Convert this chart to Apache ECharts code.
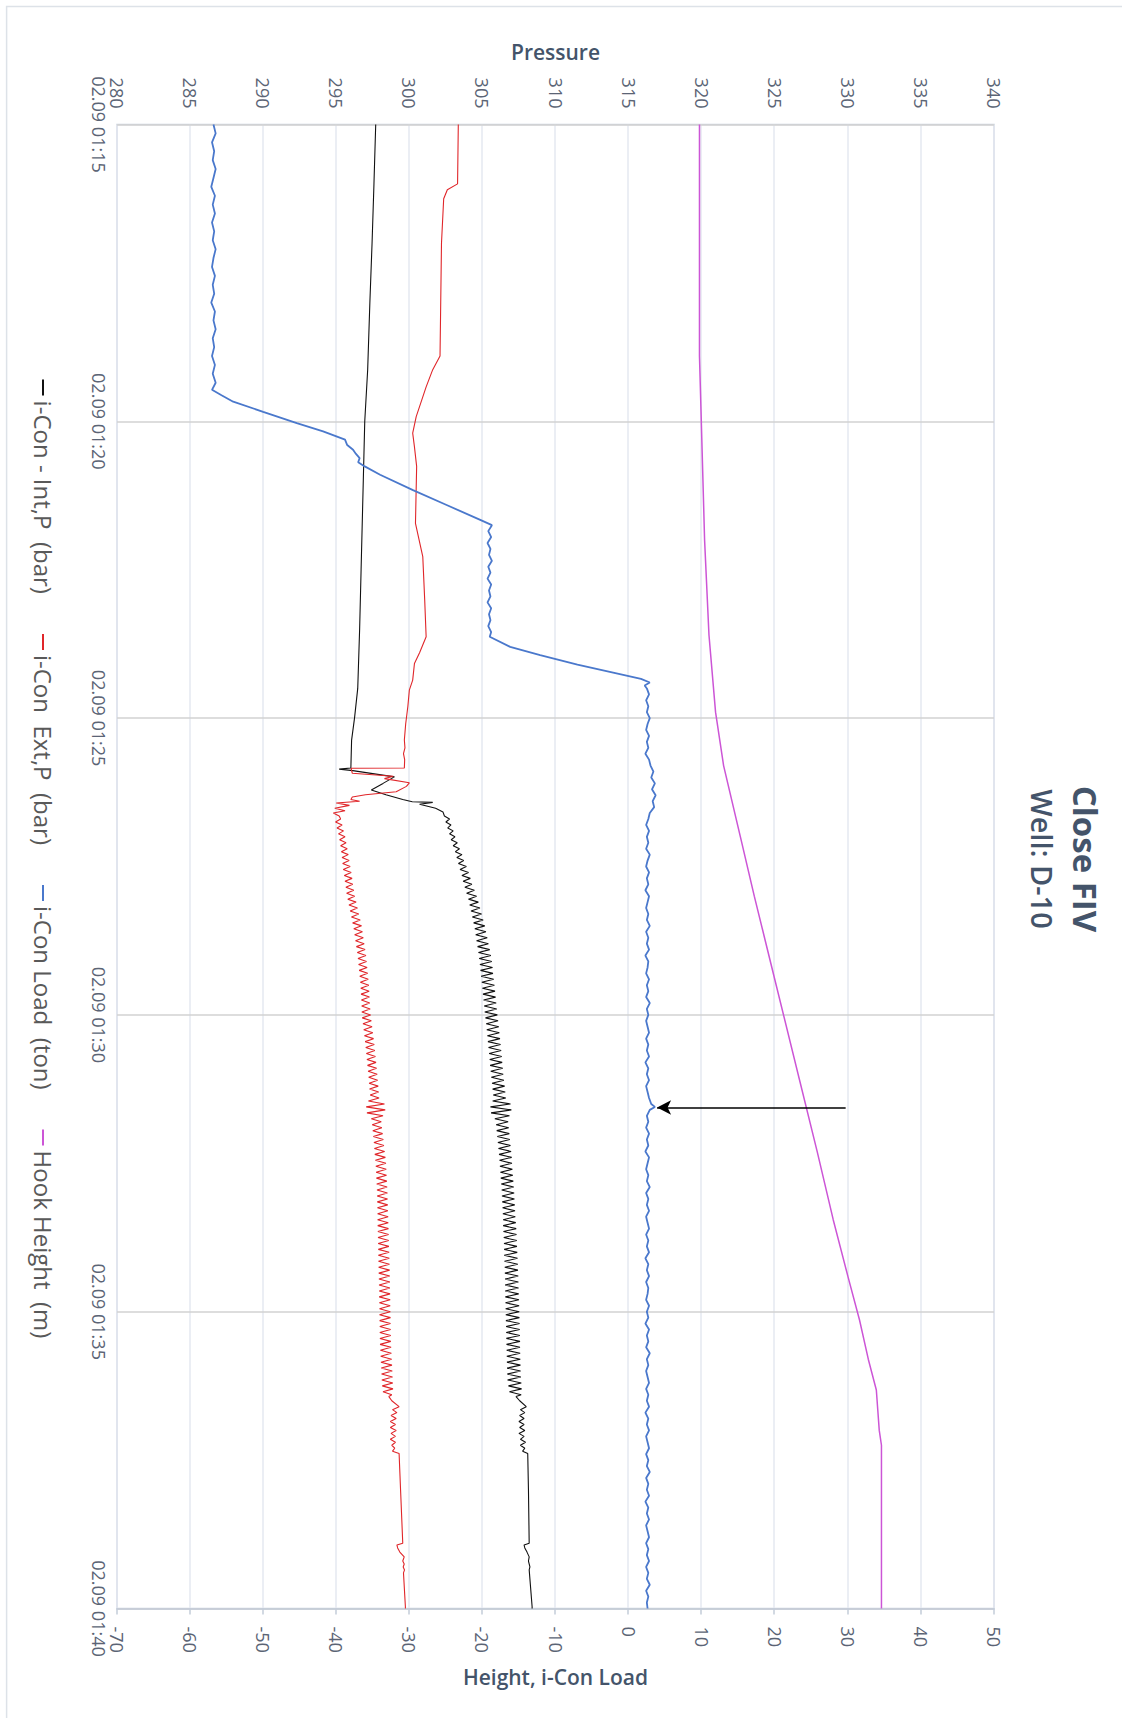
<!DOCTYPE html>
<html><head><meta charset="utf-8">
<script src="https://cdn.jsdelivr.net/npm/echarts@6/dist/echarts.min.js"></script>
<style>
html,body{margin:0;padding:0;background:#fff;overflow:hidden;width:1122px;height:1718px}
#chart{position:absolute;left:0;top:0;width:1718px;height:1122px;transform-origin:0 0;transform:translate(1122px,0) rotate(90deg);}
</style></head><body><div id="chart"></div><script>
// time is in minutes after 02.09 01:15
const timeLabels = ['02.09 01:15','02.09 01:20','02.09 01:25','02.09 01:30','02.09 01:35','02.09 01:40'];
const seriesNames = ['i-Con - Int,P  (bar)','i-Con  Ext,P  (bar)','i-Con Load  (ton)','Hook Height  (m)'];

// i-Con - Int,P (bar)  [minute, bar]
const intP = [[0,297.7],[1,297.58],[2,297.45],[3,297.3],[4.13,297.15],[5,296.95],[6,296.85],[7.5,296.7],[8.5,296.6],[9.5,296.47],[10,296.25],[10.37,296.05],[10.84,296.0],[10.86,295.2],[10.885,296.13],[10.99,298.98],[11.1,298.2],[11.21,297.4],[11.29,298.4],[11.37,299.55],[11.41,300.2],[11.42,301.6],[11.45,300.7],[11.52,301.8],[11.58,302.3],[11.65,302.4],
[11.7,302.75],[11.75,302.5],[11.8,302.85],[11.85,302.63],[11.9,303.0],[11.95,302.75],[12.0,303.12],[12.05,302.86],[12.1,303.28],[12.15,303.0],[12.2,303.43],[12.25,303.15],[12.3,303.6],[12.35,303.25],[12.4,303.72],[12.45,303.36],[12.5,303.9],[12.55,303.47],[12.6,304.05],[12.65,303.6],[12.7,304.17],[12.75,303.68],[12.8,304.28],[12.85,303.8],[12.9,304.45],[12.95,303.92],
[13.0,304.6],[13.05,304.05],[13.1,304.72],[13.15,304.13],[13.2,304.83],[13.25,304.22],[13.3,304.94],[13.35,304.31],[13.4,305.05],[13.45,304.4],[13.5,305.16],[13.55,304.48],[13.6,305.24],[13.65,304.54],[13.7,305.33],[13.75,304.6],[13.8,305.41],[13.85,304.67],[13.9,305.5],[13.95,304.73],
[14.0,305.58],[14.05,304.78],[14.1,305.64],[14.15,304.83],[14.2,305.69],[14.25,304.87],[14.3,305.72],[14.35,304.91],[14.4,305.77],[14.45,304.96],[14.5,305.82],[14.55,305.0],[14.6,305.86],[14.65,305.04],[14.7,305.9],[14.75,305.08],[14.8,305.94],[14.85,305.12],[14.9,305.98],[14.95,305.16],
[15.0,306.02],[15.05,305.21],[15.1,306.07],[15.15,305.26],[15.2,306.12],[15.25,305.3],[15.3,306.16],[15.35,305.34],[15.4,306.2],[15.45,305.38],[15.5,306.24],[15.55,305.42],[15.6,306.28],[15.65,305.46],[15.7,306.32],[15.75,305.5],[15.8,306.35],[15.85,305.53],[15.9,306.39],[15.95,305.57],
[16.0,306.42],[16.05,305.61],[16.1,306.47],[16.15,305.66],[16.2,306.52],[16.25,305.7],[16.3,306.56],[16.35,305.74],[16.4,306.6],[16.45,305.7],[16.5,306.92],[16.55,305.55],[16.6,306.98],[16.65,305.59],[16.7,306.85],[16.75,305.85],[16.8,306.76],[16.85,305.94],[16.9,306.8],[16.95,305.98],
[17.0,306.84],[17.05,306.02],[17.1,306.87],[17.15,306.06],[17.2,306.92],[17.25,306.1],[17.3,306.96],[17.35,306.14],[17.4,307.0],[17.45,306.17],[17.5,307.02],[17.55,306.2],[17.6,307.05],[17.65,306.23],[17.7,307.08],[17.75,306.26],[17.8,307.11],[17.85,306.29],[17.9,307.14],[17.95,306.32],
[18.0,307.17],[18.05,306.34],[18.1,307.19],[18.15,306.36],[18.2,307.21],[18.25,306.38],[18.3,307.23],[18.35,306.4],[18.4,307.25],[18.45,306.42],[18.5,307.28],[18.55,306.42],[18.6,307.31],[18.65,306.44],[18.7,307.33],[18.75,306.46],[18.8,307.35],[18.85,306.48],[18.9,307.36],[18.95,306.49],
[19.0,307.38],[19.05,306.49],[19.1,307.4],[19.15,306.51],[19.2,307.42],[19.25,306.53],[19.3,307.43],[19.35,306.54],[19.4,307.45],[19.45,306.55],[19.5,307.46],[19.55,306.55],[19.6,307.47],[19.65,306.56],[19.7,307.48],[19.75,306.57],[19.8,307.5],[19.85,306.58],[19.9,307.51],[19.95,306.59],
[20.0,307.52],[20.05,306.6],[20.1,307.53],[20.15,306.61],[20.2,307.54],[20.25,306.62],[20.3,307.55],[20.35,306.63],[20.4,307.56],[20.45,306.64],[20.5,307.57],[20.55,306.65],[20.6,307.57],[20.65,306.66],[20.7,307.58],[20.75,306.67],[20.8,307.59],[20.85,306.68],[20.9,307.6],[20.95,306.69],
[21.0,307.61],[21.05,306.7],[21.1,307.63],[21.15,306.72],[21.2,307.66],[21.25,306.78],[21.3,307.68],[21.35,306.85],[21.4,307.65],
[21.43,307.3],[21.5,307.55],[21.6,308.0],[21.65,307.6],[21.7,307.9],[21.75,307.55],[21.8,307.85],[21.85,307.5],[21.9,307.85],[21.95,307.55],[22.0,307.9],[22.05,307.5],[22.1,307.85],[22.15,307.6],[22.2,307.95],[22.25,307.6],[22.3,307.9],[22.35,307.75],[22.39,308.1],[23.0,308.15],[23.9,308.2],[23.93,307.85],[23.98,307.9],[24.05,308.05],[24.13,308.2],[24.2,308.15],[24.3,308.25],[24.35,308.2],[24.97,308.4],[25,308.4]];

// i-Con Ext,P (bar)
const extP = [[0,303.35],[1.0,303.3],[1.1,302.6],[1.25,302.35],[2,302.2],[3.9,302.1],[4.13,301.6],[4.42,301.15],[4.92,300.47],[5.2,300.23],[5.43,300.35],[5.76,300.5],[6.72,300.42],[7.28,300.92],[8.0,301.05],[8.63,301.15],[8.9,300.7],[9.08,300.35],[9.36,300.23],[9.53,300.0],[9.8,299.9],[10.1,299.75],[10.37,299.66],[10.5,299.7],[10.6,299.6],[10.7,299.68],[10.84,299.66],[10.846,296.02],[10.93,296.1],[10.98,298.9],[11.02,298.3],[11.09,300.0],[11.15,299.8],[11.24,299.1],[11.29,297.0],[11.33,296.1],[11.37,296.0],[11.40,296.6],[11.43,295.0],[11.47,295.9],[11.52,294.9],[11.56,295.6],[11.6,294.8],[11.65,295.2],
[11.7,295.3],[11.75,294.95],[11.8,295.4],[11.85,295.05],[11.9,295.5],[11.95,295.15],[12.0,295.6],[12.05,295.23],[12.1,295.67],[12.15,295.3],[12.2,295.75],[12.25,295.35],[12.3,295.82],[12.35,295.4],[12.4,295.88],[12.45,295.44],[12.5,295.95],[12.55,295.48],[12.6,296.02],[12.65,295.55],[12.7,296.08],[12.75,295.6],[12.8,296.13],[12.85,295.66],[12.9,296.2],[12.95,295.71],
[13.0,296.26],[13.05,295.79],[13.1,296.36],[13.15,295.87],[13.2,296.45],[13.25,295.95],[13.3,296.54],[13.35,296.04],[13.4,296.64],[13.45,296.12],[13.5,296.73],[13.55,296.2],[13.6,296.79],[13.65,296.26],[13.7,296.85],[13.75,296.32],[13.8,296.91],[13.85,296.38],[13.9,296.97],[13.95,296.44],
[14.0,297.03],[14.05,296.49],[14.1,297.07],[14.15,296.53],[14.2,297.11],[14.25,296.57],[14.3,297.15],[14.35,296.61],[14.4,297.19],[14.45,296.65],[14.5,297.23],[14.55,296.68],[14.6,297.25],[14.65,296.7],[14.7,297.27],[14.75,296.72],[14.8,297.29],[14.85,296.74],[14.9,297.32],[14.95,296.75],
[15.0,297.35],[15.05,296.78],[15.1,297.4],[15.15,296.83],[15.2,297.45],[15.25,296.88],[15.3,297.5],[15.35,296.93],[15.4,297.55],[15.45,296.98],[15.5,297.6],[15.55,297.02],[15.6,297.64],[15.65,297.06],[15.7,297.68],[15.75,297.1],[15.8,297.72],[15.85,297.14],[15.9,297.76],[15.95,297.18],
[16.0,297.8],[16.05,297.22],[16.1,297.83],[16.15,297.25],[16.2,297.87],[16.25,297.28],[16.3,297.9],[16.35,297.32],[16.4,297.93],[16.45,297.2],[16.5,298.3],[16.55,297.05],[16.6,298.35],[16.65,297.1],[16.7,298.2],[16.75,297.4],[16.8,298.08],[16.85,297.46],[16.9,298.12],[16.95,297.5],
[17.0,298.17],[17.05,297.54],[17.1,298.22],[17.15,297.58],[17.2,298.26],[17.25,297.61],[17.3,298.31],[17.35,297.64],[17.4,298.36],[17.45,297.68],[17.5,298.4],[17.55,297.71],[17.6,298.42],[17.65,297.73],[17.7,298.44],[17.75,297.75],[17.8,298.46],[17.85,297.77],[17.9,298.48],[17.95,297.79],
[18.0,298.5],[18.05,297.8],[18.1,298.51],[18.15,297.81],[18.2,298.52],[18.25,297.82],[18.3,298.53],[18.35,297.83],[18.4,298.55],[18.45,297.83],[18.5,298.56],[18.55,297.84],[18.6,298.57],[18.65,297.85],[18.7,298.58],[18.75,297.86],[18.8,298.59],[18.85,297.87],[18.9,298.6],[18.95,297.88],
[19.0,298.62],[19.05,297.88],[19.1,298.63],[19.15,297.89],[19.2,298.64],[19.25,297.9],[19.3,298.65],[19.35,297.91],[19.4,298.66],[19.45,297.92],[19.5,298.67],[19.55,297.93],[19.6,298.67],[19.65,297.94],[19.7,298.68],[19.75,297.94],[19.8,298.69],[19.85,297.95],[19.9,298.69],[19.95,297.96],
[20.0,298.7],[20.05,297.96],[20.1,298.71],[20.15,297.97],[20.2,298.71],[20.25,297.98],[20.3,298.72],[20.35,297.98],[20.4,298.73],[20.45,297.99],[20.5,298.73],[20.55,298.0],[20.6,298.75],[20.65,298.02],[20.7,298.77],[20.75,298.04],[20.8,298.79],[20.85,298.06],[20.9,298.81],[20.95,298.08],
[21.0,298.83],[21.05,298.1],[21.1,298.85],[21.15,298.12],[21.2,298.87],[21.25,298.15],[21.3,298.88],[21.35,298.2],[21.4,298.8],
[21.43,298.6],[21.5,298.8],[21.6,299.3],[21.65,298.85],[21.7,299.15],[21.75,298.75],[21.8,299.1],[21.85,298.7],[21.9,299.05],[21.95,298.7],[22.0,299.1],[22.05,298.75],[22.1,299.05],[22.15,298.7],[22.2,299.05],[22.25,298.8],[22.3,299.0],[22.35,298.85],[22.39,299.3],[23.0,299.4],[23.9,299.55],[23.93,299.15],[23.98,299.2],[24.05,299.35],[24.13,299.65],[24.2,299.55],[24.25,299.65],[24.3,299.58],[24.35,299.67],[24.4,299.6],[24.97,299.73],[25,299.73]];

// i-Con Load (ton)
const iconLoad = [[0,-56.8],[0.15,-56.5],[0.3,-57.0],[0.45,-56.7],[0.6,-56.9],[0.75,-56.5],[0.9,-56.8],[1.05,-57.1],[1.2,-56.6],[1.35,-56.9],[1.5,-56.6],[1.65,-57.0],[1.8,-56.7],[1.95,-56.9],[2.1,-56.5],[2.25,-56.8],[2.4,-57.0],[2.55,-56.6],[2.7,-56.9],[2.85,-56.7],[3.0,-57.1],[3.15,-56.6],[3.3,-56.8],[3.45,-56.5],[3.6,-56.9],[3.75,-56.7],[3.9,-57.0],[4.05,-56.6],[4.2,-56.9],[4.35,-56.5],[4.47,-57.0],
[4.56,-55.7],[4.67,-54.1],[4.84,-50.0],[5.03,-45.4],[5.17,-41.8],[5.31,-38.8],[5.4,-38.5],[5.48,-37.7],[5.55,-37.3],[5.62,-36.8],[5.69,-37.0],[5.76,-36.1],[5.9,-34.0],[6.16,-29.5],[6.41,-24.9],[6.66,-20.3],
[6.75,-18.7],[6.85,-19.2],[6.95,-18.8],[7.05,-19.3],[7.15,-18.9],[7.25,-19.1],[7.35,-18.7],[7.45,-19.2],[7.55,-18.9],[7.65,-19.3],[7.75,-18.8],[7.85,-19.1],[7.95,-18.9],[8.05,-19.3],[8.15,-18.8],[8.25,-19.1],[8.35,-18.9],[8.45,-19.2],[8.55,-18.8],[8.63,-19.0],
[8.8,-16.2],[8.94,-12.1],[9.1,-7.0],[9.25,-1.5],[9.34,1.7],[9.4,2.9],[9.45,2.2],
[9.5,2.5],[9.6,2.8],[9.7,2.4],[9.8,2.7],[9.9,2.5],[10.0,2.9],[10.1,2.6],[10.2,2.4],[10.3,2.8],[10.4,2.5],[10.5,2.7],[10.6,2.3],[10.7,2.8],[10.8,3.0],[10.9,3.4],[11.0,3.1],[11.1,3.6],[11.2,3.2],[11.3,3.7],[11.4,3.3],[11.5,3.5],[11.6,2.9],[11.7,2.7],[11.8,2.4],[11.9,2.8],
[12.0,2.5],[12.1,2.7],[12.2,2.4],[12.3,2.9],[12.4,2.6],[12.5,2.4],[12.6,2.8],[12.7,2.5],[12.8,2.7],[12.9,2.3],[13.0,2.8],[13.1,2.6],[13.2,2.4],[13.3,2.7],[13.4,2.5],[13.5,2.9],[13.6,2.4],[13.7,2.7],[13.8,2.5],[13.9,2.8],
[14.0,2.3],[14.1,2.7],[14.2,2.6],[14.3,2.4],[14.4,2.8],[14.5,2.5],[14.6,2.7],[14.7,2.4],[14.8,2.9],[14.9,2.5],[15.0,2.7],[15.1,2.4],[15.2,2.6],[15.3,2.8],[15.4,2.4],[15.5,2.7],[15.6,2.5],[15.7,2.8],[15.8,2.3],[15.9,2.7],
[16.0,2.5],[16.1,2.8],[16.2,2.4],[16.3,2.6],[16.4,2.8],[16.5,3.1],[16.55,3.6],[16.6,2.9],[16.7,2.5],[16.8,2.7],[16.9,2.4],[17.0,2.8],[17.1,2.5],[17.2,2.7],[17.3,2.3],[17.4,2.8],[17.5,2.6],[17.6,2.4],[17.7,2.7],[17.8,2.5],[17.9,2.9],
[18.0,2.4],[18.1,2.7],[18.2,2.5],[18.3,2.8],[18.4,2.4],[18.5,2.6],[18.6,2.8],[18.7,2.4],[18.8,2.7],[18.9,2.5],[19.0,2.8],[19.1,2.3],[19.2,2.7],[19.3,2.5],[19.4,2.8],[19.5,2.4],[19.6,2.7],[19.7,2.6],[19.8,2.4],[19.9,2.8],
[20.0,2.5],[20.1,2.7],[20.2,2.3],[20.3,2.8],[20.4,2.5],[20.5,2.7],[20.6,2.4],[20.7,2.9],[20.8,2.5],[20.9,2.7],[21.0,2.4],[21.1,2.6],[21.2,2.8],[21.3,2.4],[21.4,2.7],[21.5,2.5],[21.6,2.8],[21.7,2.3],[21.8,2.7],[21.9,2.5],
[22.0,2.8],[22.1,2.4],[22.2,2.6],[22.3,2.8],[22.4,2.4],[22.5,2.7],[22.6,2.5],[22.7,2.9],[22.8,2.4],[22.9,2.7],[23.0,2.5],[23.1,2.8],[23.2,2.3],[23.3,2.7],[23.4,2.5],[23.5,2.8],[23.6,2.4],[23.7,2.6],[23.8,2.8],[23.9,2.4],
[24.0,2.7],[24.1,2.5],[24.2,2.8],[24.3,2.4],[24.4,2.7],[24.5,2.5],[24.6,2.9],[24.7,2.4],[24.8,2.7],[24.9,2.5],[25.0,2.6]];

// Hook Height (m)
const hookHeight = [[0,9.7],[3.9,9.7],[5,9.95],[7,10.4],[8.6,11.0],[9.9,11.9],[10.8,13.0],[12,15.3],[13,17.2],[14.5,20.2],[16.1,23.4],[17.3,25.8],[18.45,28.0],[19.4,30.0],[20.14,31.6],[20.8,32.8],[21.32,33.9],[21.66,34.1],[22,34.3],[22.25,34.6],[25,34.6]];

// annotation arrow: [minute, from height, to height]
const arrowMark = [16.56, 29.7, 3.9];

const FONT = '"Open Sans", "Noto Sans", sans-serif';
const chart = echarts.init(document.getElementById('chart'), null, {renderer:'svg', width:1718, height:1122});
chart.setOption({
  animation:false,
  backgroundColor:'#ffffff',
  title:[
    {text:'Close FIV', left:'center', top:20, padding:0, textStyle:{fontFamily:FONT, fontSize:33, fontWeight:'bold', color:'#44546a'}},
    {text:'Well: D-10', left:'center', top:65, padding:0, textStyle:{fontFamily:FONT, fontSize:29, fontWeight:600, color:'#44546a'}}
  ],
  graphic:[{type:'rect', silent:true, shape:{x:6.6, y:-5, width:1730, height:1120.4}, style:{fill:'none', stroke:'#dde2e8', lineWidth:1.5}}],
  legend:{
    bottom:31, left:'center', padding:0, itemGap:40, itemWidth:16, itemHeight:2, icon:'rect',
    textStyle:{fontFamily:FONT, fontSize:24, color:'#595959'},
    data:seriesNames
  },
  grid:{left:124.5, right:109.5, top:128, bottom:117, show:true, borderColor:'#c9d1dd', borderWidth:1.5, containLabel:false},
  xAxis:{type:'value', min:0, max:25, interval:5,
    axisLine:{show:false}, axisTick:{show:false},
    axisLabel:{margin:9, fontFamily:FONT, fontSize:18, color:'#5b6475', formatter:v=>timeLabels[Math.round(v/5)]},
    splitLine:{show:true, lineStyle:{color:'#d2d2d2', width:1.5}}},
  yAxis:[
    {type:'value', position:'left', min:280, max:340, interval:5, name:'Pressure', nameLocation:'middle', nameRotate:90, nameGap:62,
      nameTextStyle:{fontFamily:FONT, fontSize:21, fontWeight:600, color:'#44546a'},
      axisLine:{show:false}, axisTick:{show:false},
      axisLabel:{margin:16, fontFamily:FONT, fontSize:18, color:'#5b6475'},
      splitLine:{show:true, lineStyle:{color:'#e4e9f0', width:1.5}}},
    {type:'value', position:'right', min:-70, max:50, interval:10, name:'Height, i-Con Load', nameLocation:'middle', nameRotate:90, nameGap:58,
      nameTextStyle:{fontFamily:FONT, fontSize:21, fontWeight:600, color:'#44546a'},
      axisLine:{show:true, lineStyle:{color:'#c3ccd9', width:1.5}}, axisTick:{show:true, length:6, lineStyle:{color:'#c3ccd9', width:1.5}},
      axisLabel:{margin:18, fontFamily:FONT, fontSize:18, color:'#5b6475'},
      splitLine:{show:false}}
  ],
  series:[
    {name:seriesNames[0], type:'line', yAxisIndex:0, data:intP, showSymbol:false, symbol:'none', color:'#111111', lineStyle:{width:1.1, color:'#111111'}},
    {name:seriesNames[1], type:'line', yAxisIndex:0, data:extP, showSymbol:false, symbol:'none', color:'#e0262a', lineStyle:{width:1.1, color:'#e0262a'}},
    {name:seriesNames[2], type:'line', yAxisIndex:1, data:iconLoad, showSymbol:false, symbol:'none', color:'#4a78cc', lineStyle:{width:1.8, color:'#4a78cc'},
      markLine:{silent:true, symbol:['none','arrow'], symbolSize:[11,14], label:{show:false}, emphasis:{disabled:true},
        lineStyle:{color:'#000000', width:1.5, type:'solid'},
        data:[[{coord:[arrowMark[0], arrowMark[1]]},{coord:[arrowMark[0], arrowMark[2]]}]]}},
    {name:seriesNames[3], type:'line', yAxisIndex:1, data:hookHeight, showSymbol:false, symbol:'none', color:'#cc55d6', lineStyle:{width:1.5, color:'#cc55d6'}}
  ]
});
</script></body></html>
